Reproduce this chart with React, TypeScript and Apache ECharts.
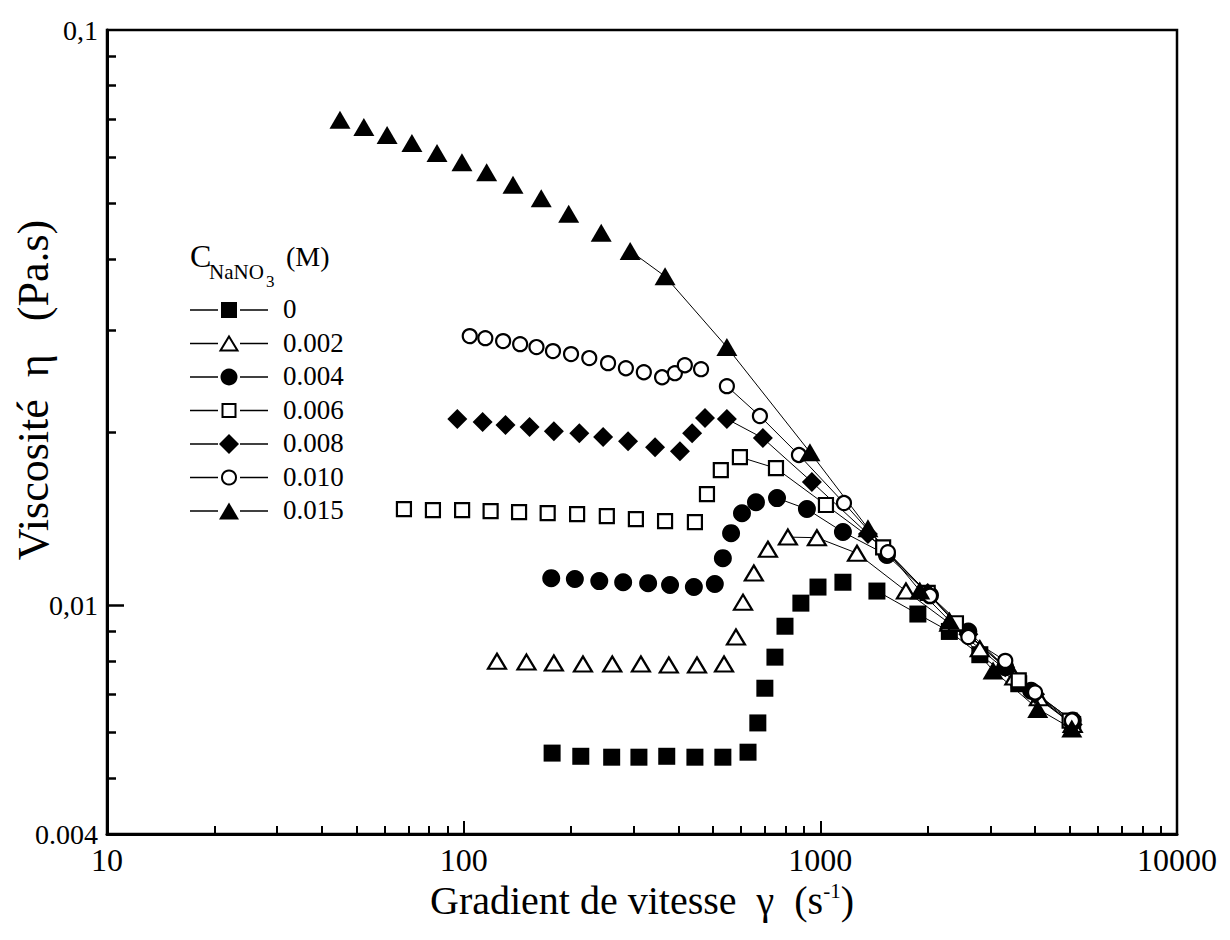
import React, { useEffect, useRef } from 'react';
import * as echarts from 'echarts';

const FONT = '"Liberation Serif", "Times New Roman", serif';

// Legend labels: NaNO3 concentration (M)
const concentrations = ['0', '0.002', '0.004', '0.006', '0.008', '0.010', '0.015'];
const symbolShapes = ['rect', 'triangle', 'circle', 'rect', 'diamond', 'circle', 'triangle'];
const symbolFilled = [true, false, true, false, true, false, true];

// [shear rate (1/s), viscosity (Pa.s)]
const c0000: [number, number][] = [
  [177, 0.00553], [213, 0.00546], [260, 0.00544], [310, 0.00544], [371, 0.00546], [445, 0.00544],
  [533, 0.00544], [627, 0.00555], [668, 0.00624], [699, 0.00717], [746, 0.00812], [796, 0.00919],
  [882, 0.01008], [985, 0.01075], [1157, 0.01096], [1441, 0.01058], [1877, 0.00965], [2300, 0.0090],
  [2800, 0.0082], [3600, 0.0073], [5100, 0.0062],
];
const c0002: [number, number][] = [
  [124, 0.00799], [150, 0.00796], [179, 0.00793], [216, 0.0079], [261, 0.0079], [314, 0.0079],
  [376, 0.00787], [451, 0.00787], [537, 0.0079], [580, 0.0088], [607, 0.01012], [651, 0.01137],
  [713, 0.01251], [811, 0.01313], [978, 0.0131], [1267, 0.01231], [1738, 0.01058], [2300, 0.0093],
  [2800, 0.0084], [3500, 0.0075], [4100, 0.0069], [5100, 0.0062],
];
const c0004: [number, number][] = [
  [176, 0.01114], [205, 0.0111], [240, 0.01101], [280, 0.01096], [329, 0.01092], [379, 0.01084],
  [442, 0.01075], [506, 0.01088], [533, 0.01207], [562, 0.01334], [603, 0.01445], [660, 0.0151],
  [756, 0.01535], [917, 0.01469], [1157, 0.0134], [1537, 0.01222], [2030, 0.0104], [2600, 0.009],
  [3300, 0.0078], [3900, 0.0071], [5100, 0.0063],
];
const c0006: [number, number][] = [
  [68, 0.01469], [82, 0.01463], [99, 0.01463], [119, 0.01457], [143, 0.01451], [172, 0.01445],
  [208, 0.0144], [252, 0.01428], [304, 0.01411], [367, 0.014], [445, 0.01394], [481, 0.0156],
  [526, 0.01717], [595, 0.01809], [751, 0.0173], [1037, 0.01493], [1500, 0.0126], [2000, 0.0105],
  [2400, 0.0093], [3600, 0.0074], [5000, 0.0063],
];
const c0008: [number, number][] = [
  [96, 0.02107], [113, 0.02082], [131, 0.02056], [153, 0.0204], [179, 0.02007], [211, 0.01991],
  [246, 0.0196], [289, 0.01928], [344, 0.01882], [404, 0.01852], [437, 0.01991], [475, 0.02115],
  [547, 0.02107], [690, 0.01952], [947, 0.01637], [1360, 0.0133], [2000, 0.0105], [2600, 0.0089],
  [3300, 0.0078], [4000, 0.007], [5100, 0.0062],
];
const c0010: [number, number][] = [
  [104, 0.02936], [115, 0.02912], [129, 0.02878], [144, 0.02843], [160, 0.0281], [178, 0.02765],
  [200, 0.02732], [225, 0.02689], [254, 0.02635], [285, 0.02582], [320, 0.02541], [360, 0.0249],
  [391, 0.02531], [417, 0.02613], [463, 0.02572], [547, 0.02403], [677, 0.02132], [871, 0.01824],
  [1165, 0.01505], [1547, 0.01236], [2030, 0.01038], [2600, 0.0088], [3300, 0.008], [4000, 0.00705],
  [5075, 0.0063],
];
const c0015: [number, number][] = [
  [45, 0.0698], [52.5, 0.0678], [61, 0.0657], [71.6, 0.0636], [84.2, 0.0611], [98.9, 0.0589],
  [116, 0.0566], [137.5, 0.0538], [165, 0.051], [197, 0.0479], [243, 0.0444], [293, 0.0413],
  [367, 0.0373], [547, 0.0281], [935, 0.01845], [1360, 0.0136], [1900, 0.0106], [2300, 0.0094],
  [3050, 0.0077], [4070, 0.0066], [5070, 0.0061],
];
const allSeries = [c0000, c0002, c0004, c0006, c0008, c0010, c0015];
// index of the first point of the connecting line (shear-thinning part)
const lineStart = [15, 13, 12, 13, 12, 15, 11];

const xLabelValues = [10, 100, 1000, 10000];
const xMinorTicks = [20, 30, 40, 50, 60, 70, 80, 90, 200, 300, 400, 500, 600, 700, 800, 900,
  2000, 3000, 4000, 5000, 6000, 7000, 8000, 9000];
const yLabelValues = [0.004, 0.01, 0.1];
const yLabelTexts = ['0.004', '0,01', '0,1'];
const yMajorTicks = [0.01];
const yMinorTicks = [0.005, 0.006, 0.007, 0.008, 0.009, 0.02, 0.03, 0.04, 0.05, 0.06, 0.07, 0.08, 0.09];

const GRID = { left: 107, right: 53, top: 30, bottom: 106 };

function symbolSize(shape: string, filled: boolean): number | number[] {
  if (shape === 'rect') return filled ? 17 : 14;
  if (shape === 'circle') return filled ? 18 : 14;
  if (shape === 'diamond') return 20;
  if (shape === 'triangle') return filled ? [21, 18] : [18, 15];
  return 16;
}

function itemStyleFor(filled: boolean) {
  return filled
    ? { color: '#000', borderColor: '#000', borderWidth: 0, opacity: 1 }
    : { color: '#fff', borderColor: '#000', borderWidth: 2.2, opacity: 1 };
}

function legendGraphics() {
  const els: any[] = [];
  const x0 = 190, x1 = 268, xc = 229, top = 310, gap = 33.5;
  concentrations.forEach((label, i) => {
    const y = top + i * gap;
    const shape = symbolShapes[i];
    const filled = symbolFilled[i];
    els.push({ type: 'line', shape: { x1: x0, y1: y, x2: xc - 11, y2: y }, style: { stroke: '#000', lineWidth: 1.5 } });
    els.push({ type: 'line', shape: { x1: xc + 11, y1: y, x2: x1, y2: y }, style: { stroke: '#000', lineWidth: 1.5 } });
    const st = filled ? { fill: '#000', stroke: '#000', lineWidth: 0 } : { fill: '#fff', stroke: '#000', lineWidth: 2 };
    if (shape === 'rect') {
      const s = filled ? 16 : 13;
      els.push({ type: 'rect', shape: { x: xc - s / 2, y: y - s / 2, width: s, height: s }, style: st });
    } else if (shape === 'circle') {
      els.push({ type: 'circle', shape: { cx: xc, cy: y, r: filled ? 8.5 : 7 }, style: st });
    } else if (shape === 'diamond') {
      els.push({ type: 'polygon', shape: { points: [[xc, y - 10], [xc + 10, y], [xc, y + 10], [xc - 10, y]] }, style: st });
    } else {
      const w = filled ? 20 : 17, h = filled ? 17 : 14;
      els.push({ type: 'polygon', shape: { points: [[xc, y - h / 2], [xc + w / 2, y + h / 2], [xc - w / 2, y + h / 2]] }, style: st });
    }
    els.push({
      type: 'text', x: 283, y: y - 1,
      style: { text: label, font: `27px ${FONT}`, fill: '#000', verticalAlign: 'middle', align: 'left' },
    });
  });
  // legend title: C_NaNO3 (M)
  els.push({ type: 'text', x: 190, y: 256, style: { text: 'C', font: `32px ${FONT}`, fill: '#000', verticalAlign: 'middle' } });
  els.push({ type: 'text', x: 209, y: 272, style: { text: 'NaNO', font: `21px ${FONT}`, fill: '#000', verticalAlign: 'middle' } });
  els.push({ type: 'text', x: 266, y: 281, style: { text: '3', font: `17px ${FONT}`, fill: '#000', verticalAlign: 'middle' } });
  els.push({ type: 'text', x: 286, y: 256, style: { text: '(M)', font: `28px ${FONT}`, fill: '#000', verticalAlign: 'middle' } });
  return els;
}

export default function App() {
  const ref = useRef<HTMLDivElement>(null);
  useEffect(() => {
    if (!ref.current) return;
    const chart = echarts.init(ref.current, undefined, { renderer: 'svg' });

    const series: any[] = [];
    allSeries.forEach((data, i) => {
      series.push({
        type: 'line',
        name: concentrations[i] + ' line',
        data: data.slice(lineStart[i]),
        symbol: 'none',
        showSymbol: false,
        lineStyle: { color: '#000', width: 1 },
        silent: true,
        z: 2,
      });
    });
    allSeries.forEach((data, i) => {
      series.push({
        type: 'scatter',
        name: concentrations[i],
        data,
        symbol: symbolShapes[i],
        symbolSize: symbolSize(symbolShapes[i], symbolFilled[i]),
        itemStyle: itemStyleFor(symbolFilled[i]),
        z: 3,
      });
    });

    const axisFontX = { fontFamily: FONT, fontSize: 32, color: '#000' };
    const axisFontY = { fontFamily: FONT, fontSize: 28, color: '#000' };

    chart.setOption({
      animation: false,
      backgroundColor: '#fff',
      grid: { ...GRID, show: true, borderColor: '#000', borderWidth: 2.5, backgroundColor: 'transparent' },
      xAxis: [
        {
          type: 'log', logBase: 10, min: 10, max: 10000, position: 'bottom',
          axisLine: { show: true, lineStyle: { color: '#000', width: 3 } },
          axisTick: { show: true, inside: true, length: 13, lineStyle: { color: '#000', width: 2 }, customValues: xLabelValues },
          axisLabel: { ...axisFontX, margin: 10, customValues: xLabelValues, formatter: (v: number) => String(Math.round(v)) },
          splitLine: { show: false },
          minorTick: { show: false },
          name: 'Gradient de vitesse  γ  (s{sup|-1})',
          nameLocation: 'middle',
          nameGap: 41,
          nameTextStyle: {
            fontFamily: FONT, fontSize: 40, color: '#000',
            rich: { sup: { fontFamily: FONT, fontSize: 21, color: '#000', verticalAlign: 'top' } },
          },
        },
        {
          type: 'log', logBase: 10, min: 10, max: 10000, position: 'bottom',
          axisLine: { show: false },
          axisTick: { show: true, inside: true, length: 8, lineStyle: { color: '#000', width: 2 }, customValues: xMinorTicks },
          axisLabel: { show: false },
          splitLine: { show: false },
        },
      ],
      yAxis: [
        {
          type: 'log', logBase: 10, min: 0.004, max: 0.1, position: 'left',
          axisLine: { show: true, lineStyle: { color: '#000', width: 3 } },
          axisTick: { show: true, inside: true, length: 17, lineStyle: { color: '#000', width: 2.5 }, customValues: yMajorTicks },
          axisLabel: {
            ...axisFontY, margin: 9, customValues: yLabelValues,
            formatter: (v: number) => {
              let best = 0;
              yLabelValues.forEach((lv, k) => { if (Math.abs(Math.log10(lv) - Math.log10(v)) < Math.abs(Math.log10(yLabelValues[best]) - Math.log10(v))) best = k; });
              return yLabelTexts[best];
            },
          },
          splitLine: { show: false },
        },
        {
          type: 'log', logBase: 10, min: 0.004, max: 0.1, position: 'left',
          axisLine: { show: false },
          axisTick: { show: true, inside: true, length: 9, lineStyle: { color: '#000', width: 2.5 }, customValues: yMinorTicks },
          axisLabel: { show: false },
          splitLine: { show: false },
        },
      ],
      graphic: [
        {
          type: 'text', x: 33, y: 390, rotation: Math.PI / 2,
          style: { text: 'Viscosité  η   (Pa.s)', font: `44px ${FONT}`, fill: '#000', align: 'center', verticalAlign: 'middle' },
        },
        ...legendGraphics(),
      ],
      series,
    });
    return () => chart.dispose();
  }, []);
  return <div ref={ref} style={{ position: 'absolute', left: 0, top: 0, width: 1230, height: 940 }} />;
}
